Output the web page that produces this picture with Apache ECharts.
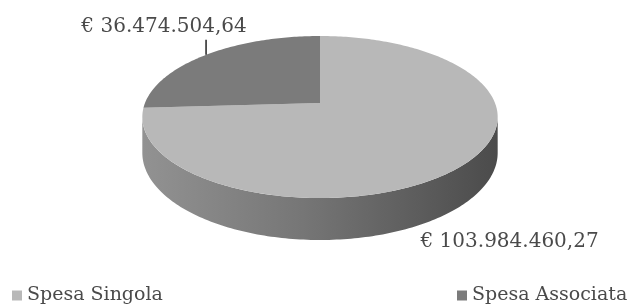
<!DOCTYPE html>
<html>
<head>
<meta charset="utf-8">
<script src="https://cdn.jsdelivr.net/npm/echarts@6/dist/echarts.min.js"></script>
<style>
  html, body { margin: 0; padding: 0; background: #fff; }
  #chart { width: 635px; height: 305px; }
</style>
</head>
<body>
<div id="chart"></div>
<script>
// dati
var categories = ['Spesa Singola', 'Spesa Associata'];
var values = [103984460.27, 36474504.64];
var labels = ['€ 103.984.460,27', '€ 36.474.504,64'];

var colors = ['#b8b8b8', '#7b7b7b'];
var font = 'DejaVu Serif';

// geometria della torta 3D (prospettiva semplice)
var CX = 320, CY = 103, S = 175, K = 78.6, P = 0.173, DEPTH = 34.7;
// offset delle etichette rispetto al punto medio della fetta
var labelOff = [[45, 78], [-42, -28]];

var total = values.reduce(function(a, b) { return a + b; }, 0);

function proj(phi, dz) {
	var u = Math.cos(phi), v = Math.sin(phi);
	var w = 1 + P * v;
	return [CX + S * u / w, CY - K * v / w + (dz || 0) / w];
}

function arc(a0, a1, dz) {
	var pts = [];
	var n = Math.max(2, Math.ceil(Math.abs(a1 - a0) / (Math.PI / 180)));
	for (var i = 0; i <= n; i++) {
		pts.push(proj(a0 + (a1 - a0) * i / n, dz));
	}
	return pts;
}

function renderSlice(params, api) {
	var idx = params.seriesIndex;
	var before = 0;
	for (var i = 0; i < idx; i++) before += values[i];
	var deg = Math.PI / 180;
	// senso orario a partire dalle ore 12
	var a0 = 90 * deg - before / total * 2 * Math.PI;
	var a1 = a0 - api.value(0) / total * 2 * Math.PI;
	var children = [];

	// parete laterale visibile
	var visHi = -Math.asin(P), visLo = -Math.PI + Math.asin(P);
	var hi = Math.min(a0, visHi), lo = Math.max(a1, visLo);
	if (hi > lo) {
		var top = arc(hi, lo, 0);
		var bot = arc(lo, hi, DEPTH);
		children.push({
			type: 'polygon',
			shape: { points: top.concat(bot) },
			style: {
				fill: new echarts.graphic.LinearGradient(0, 0, 1, 0, [
					{ offset: 0, color: '#929292' },
					{ offset: 0.45, color: '#767676' },
					{ offset: 1, color: '#4b4b4b' }
				])
			}
		});
	}

	// faccia superiore
	children.push({
		type: 'polygon',
		shape: { points: [[CX, CY]].concat(arc(a0, a1, 0)) },
		style: { fill: colors[idx] }
	});

	// etichetta
	var mid = (a0 + a1) / 2;
	var p = proj(mid, 0);
	var off = labelOff[idx];
	if (off[1] < 0) {
		children.push({
			type: 'line',
			shape: { x1: p[0], y1: p[1], x2: p[0], y2: p[1] - 15 },
			style: { stroke: '#222', lineWidth: 1.5 }
		});
	}
	children.push({
		type: 'text',
		style: {
			text: labels[idx],
			x: p[0] + off[0], y: p[1] + off[1],
			align: 'center', verticalAlign: 'middle',
			fill: '#4a4a4a', fontSize: 20, fontFamily: font
		}
	});
	return { type: 'group', children: children };
}

var chart = echarts.init(document.getElementById('chart'));
var series = [];
for (var i in categories) {
	series.push({
		name: categories[i],
		type: 'custom',
		coordinateSystem: 'none',
		renderItem: renderSlice,
		itemStyle: { color: colors[i] },
		data: [values[i]]
	});
}

var legendBase = {
	top: 286,
	padding: 0,
	icon: 'rect',
	itemWidth: 10,
	itemHeight: 10,
	textStyle: { fontSize: 19, fontFamily: font, color: '#4a4a4a' }
};

chart.setOption({
	animation: false,
	legend: [
		Object.assign({}, legendBase, { left: 12, data: [categories[0]] }),
		Object.assign({}, legendBase, { left: 457, data: [categories[1]] })
	],
	series: series
});
</script>
</body>
</html>
